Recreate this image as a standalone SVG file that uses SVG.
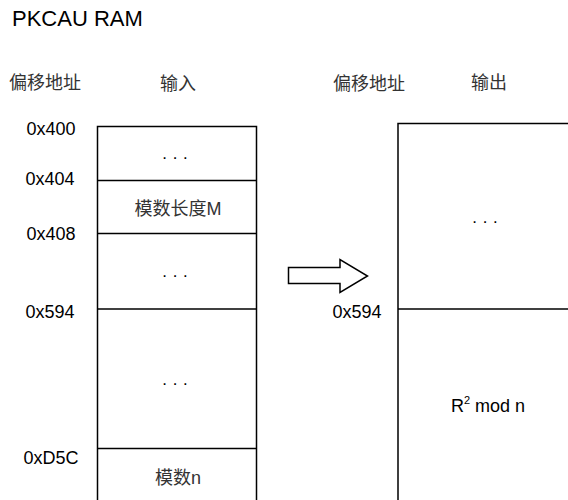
<svg xmlns="http://www.w3.org/2000/svg" width="568" height="500" viewBox="0 0 568 500">
<style>
text{font-family:"Liberation Sans","Noto Sans CJK SC",Arial,sans-serif;fill:#000}
.t{font-size:22px}
.a{font-size:18px;text-anchor:middle}
.c{font-size:18px;text-anchor:middle;fill:#333}
.d{font-size:17px;text-anchor:middle}
.ln{stroke:#000;stroke-width:1.5;fill:none}
</style>
<rect width="568" height="500" fill="#fff"/>
<text class="t" x="12" y="26">PKCAU RAM</text>
<text class="c" x="45" y="89">偏移地址</text>
<text class="c" x="178" y="90">输入</text>
<text class="c" x="369" y="90">偏移地址</text>
<text class="c" x="489" y="89">输出</text>
<g id="input">
<path class="ln" d="M97.5 500V126.5H256.5V500"/>
<line class="ln" x1="97.5" y1="180.5" x2="256.5" y2="180.5"/>
<line class="ln" x1="97.5" y1="233.5" x2="256.5" y2="233.5"/>
<line class="ln" x1="97.5" y1="309" x2="256.5" y2="309"/>
<line class="ln" x1="97.5" y1="448.5" x2="256.5" y2="448.5"/>
<text class="d" x="175" y="163">· · ·</text>
<text class="c" x="178" y="215">模数长度M</text>
<text class="d" x="175" y="281">· · ·</text>
<text class="d" x="175" y="389">· · ·</text>
<text class="c" x="178" y="484">模数n</text>
</g>
<g id="addr-left">
<text class="a" x="51" y="135">0x400</text>
<text class="a" x="50" y="185">0x404</text>
<text class="a" x="51" y="240">0x408</text>
<text class="a" x="50" y="318">0x594</text>
<text class="a" x="51" y="464">0xD5C</text>
</g>
<g id="output">
<path class="ln" d="M398 500V123.5H570"/>
<line class="ln" x1="398" y1="309" x2="570" y2="309"/>
<text class="d" x="485" y="227">· · ·</text>
<text class="a" x="488" y="412">R<tspan font-size="11" dy="-8">2</tspan><tspan dy="8"> mod n</tspan></text>
<text class="a" x="357" y="318">0x594</text>
</g>
<g id="connectors">
<path class="ln" d="M288.5 267.5H340V259.5L367.5 276L340 292.5V283.5H288.5Z" stroke-width="1.3"/>
</g>
</svg>
